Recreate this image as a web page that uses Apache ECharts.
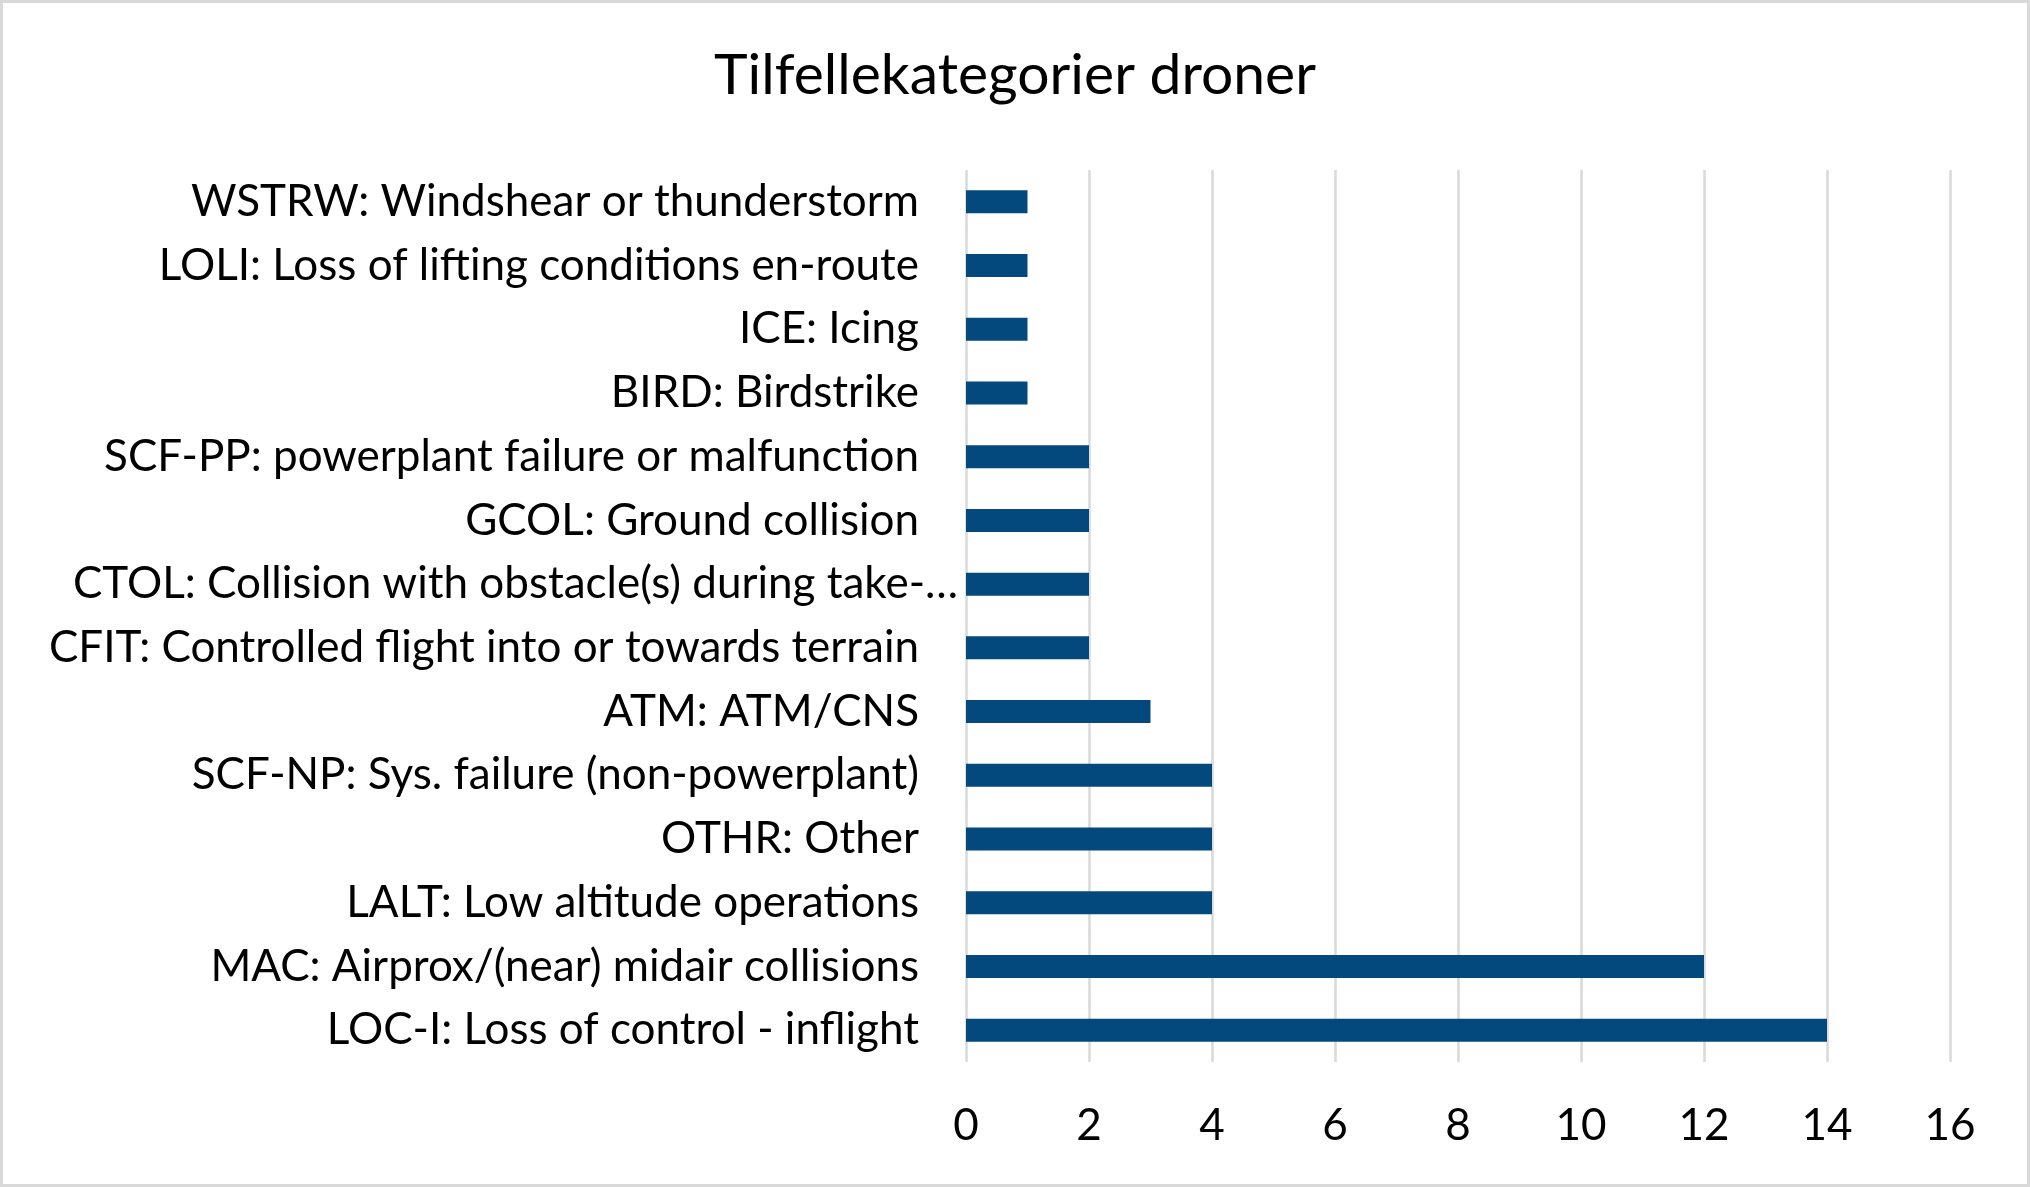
<!DOCTYPE html>
<html>
<head>
<meta charset="utf-8">
<script src="https://cdn.jsdelivr.net/npm/echarts@6/dist/echarts.min.js"></script>
<style>
  html, body { margin: 0; padding: 0; background: #fff; }
  #main { width: 2030px; height: 1187px; box-sizing: border-box; border: 3px solid #d9d9d9; }
</style>
</head>
<body>
<div id="main"></div>
<script>
// categories listed bottom -> top (category axis starts at the bottom)
var categories = [
  'LOC-I: Loss of control - inflight',
  'MAC: Airprox/(near) midair collisions',
  'LALT: Low altitude operations',
  'OTHR: Other',
  'SCF-NP: Sys. failure (non-powerplant)',
  'ATM: ATM/CNS',
  'CFIT: Controlled flight into or towards terrain',
  'CTOL: Collision with obstacle(s) during take-\u2026',
  'GCOL: Ground collision',
  'SCF-PP: powerplant failure or malfunction',
  'BIRD: Birdstrike',
  'ICE: Icing',
  'LOLI: Loss of lifting conditions en-route',
  'WSTRW: Windshear or thunderstorm'
];
var counts = [14, 12, 4, 4, 4, 3, 2, 2, 2, 2, 1, 1, 1, 1];
var xTicks = [0, 2, 4, 6, 8, 10, 12, 14, 16];

var FONT = 'Lato';

var myChart = echarts.init(document.getElementById('main'));
var option = {
  backgroundColor: '#fff',
  animation: false,
  title: {
    text: 'Tilfellekategorier droner',
    left: 'center',
    top: 39,
    textStyle: { fontFamily: FONT, fontSize: 57, fontWeight: 'normal', color: '#000' }
  },
  grid: { left: 963, right: 77, top: 167, bottom: 122 },
  xAxis: {
    type: 'value',
    min: xTicks[0],
    max: xTicks[xTicks.length - 1],
    interval: 2,
    axisLine: { show: false },
    axisTick: { show: false },
    splitLine: { lineStyle: { color: '#d9d9d9', width: 2.5 } },
    axisLabel: { fontFamily: FONT, fontSize: 44, color: '#000', margin: 42 }
  },
  yAxis: {
    type: 'category',
    data: categories,
    axisLine: { show: false },
    axisTick: { show: false },
    axisLabel: {
      margin: 8,
      formatter: function (v) {
        // the truncated label runs past the others in the original
        return v.indexOf('CTOL') === 0 ? '{b|' + v + '}' : '{a|' + v + '}';
      },
      rich: {
        a: { fontFamily: FONT, fontSize: 44, color: '#000', padding: [0, 39, 0, 0] },
        b: { fontFamily: FONT, fontSize: 44, color: '#000' }
      }
    }
  },
  series: [{
    type: 'bar',
    data: counts,
    barWidth: 23,
    itemStyle: { color: '#03497e' }
  }]
};
myChart.setOption(option);
</script>
</body>
</html>
